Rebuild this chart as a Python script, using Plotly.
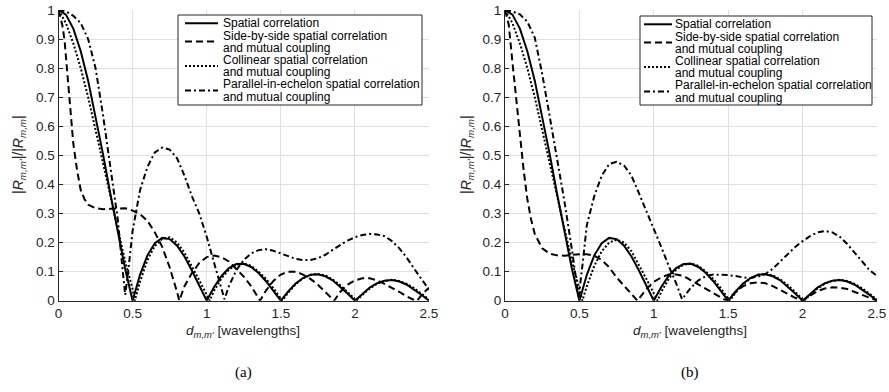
import plotly.graph_objects as go

# ---------------- data ----------------
# Spatial correlation (same curve in (a) and (b))
spatial_x = [0, 0.05, 0.1, 0.15, 0.2, 0.25, 0.3, 0.35, 0.4, 0.45, 0.5, 0.55, 0.6, 0.65, 0.7, 0.75, 0.8, 0.85, 0.9, 0.95,
             1.0, 1.05, 1.1, 1.15, 1.2, 1.25, 1.3, 1.35, 1.4, 1.45, 1.5, 1.55, 1.6, 1.65, 1.7, 1.75, 1.8, 1.85, 1.9, 1.95,
             2.0, 2.05, 2.1, 2.15, 2.2, 2.25, 2.3, 2.35, 2.4, 2.45, 2.5]
spatial_y = [1, 0.984, 0.936, 0.858, 0.757, 0.637, 0.505, 0.368, 0.234, 0.109, 0, 0.089, 0.156, 0.198, 0.216, 0.212,
             0.189, 0.152, 0.104, 0.052, 0, 0.047, 0.085, 0.112, 0.126, 0.127, 0.116, 0.095, 0.067, 0.034, 0, 0.032,
             0.059, 0.078, 0.089, 0.091, 0.084, 0.070, 0.049, 0.025, 0, 0.024, 0.045, 0.060, 0.069, 0.071, 0.066,
             0.055, 0.039, 0.020, 0]

# (a) Side-by-side
sbs_a_x = [0, 0.025, 0.04, 0.05, 0.075, 0.1, 0.125, 0.15, 0.175, 0.2, 0.25, 0.3, 0.35, 0.4, 0.45, 0.5, 0.55, 0.6, 0.65,
           0.7, 0.75, 0.8, 0.815, 0.85, 0.9, 0.95, 1.0, 1.05, 1.1, 1.15, 1.2, 1.25, 1.3, 1.35, 1.36, 1.4, 1.45, 1.5,
           1.55, 1.6, 1.65, 1.7, 1.75, 1.8, 1.85, 1.86, 1.9, 1.95, 2.0, 2.05, 2.1, 2.15, 2.2, 2.25, 2.3, 2.35, 2.4,
           2.42, 2.45, 2.5]
sbs_a_y = [1, 0.95, 0.9, 0.84, 0.68, 0.54, 0.45, 0.38, 0.35, 0.33, 0.318, 0.315, 0.316, 0.318, 0.318, 0.31, 0.298,
           0.275, 0.235, 0.185, 0.115, 0.03, 0, 0.05, 0.095, 0.13, 0.15, 0.155, 0.15, 0.135, 0.11, 0.083, 0.05, 0.01,
           0, 0.035, 0.068, 0.09, 0.1, 0.1, 0.09, 0.075, 0.055, 0.03, 0.005, 0, 0.03, 0.055, 0.07, 0.077, 0.077,
           0.07, 0.058, 0.045, 0.03, 0.015, 0.002, 0, 0.02, 0.045]

# (a) Collinear
col_a_x = [0, 0.05, 0.1, 0.15, 0.2, 0.25, 0.3, 0.35, 0.4, 0.45, 0.5, 0.515, 0.55, 0.6, 0.65, 0.7, 0.75, 0.8, 0.85, 0.9,
           0.95, 1.0, 1.02, 1.05, 1.1, 1.15, 1.2, 1.25, 1.3, 1.35, 1.4, 1.45, 1.5, 1.51, 1.55, 1.6, 1.65, 1.7, 1.75,
           1.8, 1.85, 1.9, 1.95, 2.0, 2.01, 2.05, 2.1, 2.15, 2.2, 2.25, 2.3, 2.35, 2.4, 2.45, 2.5]
col_a_y = [1, 0.955, 0.885, 0.80, 0.70, 0.585, 0.47, 0.355, 0.24, 0.135, 0.04, 0, 0.065, 0.14, 0.188, 0.213, 0.218,
           0.2, 0.165, 0.12, 0.07, 0.02, 0, 0.035, 0.077, 0.107, 0.124, 0.128, 0.12, 0.1, 0.075, 0.043, 0.01, 0,
           0.028, 0.056, 0.077, 0.089, 0.092, 0.087, 0.073, 0.054, 0.03, 0.006, 0, 0.02, 0.042, 0.058, 0.068, 0.072,
           0.068, 0.058, 0.043, 0.024, 0.004]

# (a) Parallel-in-echelon
par_a_x = [0, 0.05, 0.1, 0.15, 0.2, 0.25, 0.3, 0.35, 0.4, 0.43, 0.45, 0.47, 0.5, 0.55, 0.6, 0.65, 0.7, 0.75, 0.8,
           0.85, 0.9, 0.95, 1.0, 1.05, 1.1, 1.12, 1.15, 1.2, 1.25, 1.3, 1.35, 1.4, 1.45, 1.5, 1.55, 1.6, 1.65, 1.7,
           1.75, 1.8, 1.85, 1.9, 1.95, 2.0, 2.05, 2.1, 2.15, 2.2, 2.25, 2.3, 2.35, 2.4, 2.45, 2.5]
par_a_y = [1, 0.995, 0.98, 0.955, 0.9, 0.8, 0.64, 0.46, 0.28, 0.12, 0.02, 0.1, 0.24, 0.38, 0.46, 0.51, 0.527, 0.52,
           0.49, 0.43, 0.36, 0.3, 0.22, 0.13, 0.04, 0.005, 0.05, 0.105, 0.14, 0.163, 0.174, 0.177, 0.172, 0.163,
           0.152, 0.144, 0.14, 0.14, 0.146, 0.158, 0.175, 0.192, 0.207, 0.218, 0.226, 0.23, 0.228, 0.222, 0.205,
           0.18, 0.148, 0.11, 0.072, 0.038]

# (b) Side-by-side
sbs_b_x = [0, 0.025, 0.05, 0.075, 0.1, 0.125, 0.15, 0.175, 0.2, 0.25, 0.3, 0.35, 0.4, 0.45, 0.5, 0.55, 0.6, 0.65, 0.7,
           0.75, 0.8, 0.85, 0.89, 0.95, 1.0, 1.05, 1.1, 1.15, 1.2, 1.25, 1.3, 1.35, 1.4, 1.45, 1.49, 1.55, 1.6, 1.65,
           1.7, 1.75, 1.8, 1.85, 1.9, 1.95, 2.0, 2.05, 2.1, 2.15, 2.2, 2.25, 2.3, 2.35, 2.4, 2.45, 2.5]
sbs_b_y = [1, 0.95, 0.82, 0.69, 0.56, 0.45, 0.35, 0.28, 0.23, 0.18, 0.162, 0.156, 0.155, 0.158, 0.16, 0.16, 0.155,
           0.14, 0.115, 0.08, 0.05, 0.022, 0, 0.04, 0.065, 0.08, 0.09, 0.09, 0.085, 0.07, 0.055, 0.04, 0.025, 0.01, 0,
           0.03, 0.05, 0.06, 0.063, 0.06, 0.05, 0.037, 0.024, 0.01, 0, 0.018, 0.033, 0.042, 0.046, 0.045, 0.04,
           0.03, 0.02, 0.01, 0]

# (b) Collinear
col_b_x = [0, 0.05, 0.1, 0.15, 0.2, 0.25, 0.3, 0.35, 0.4, 0.45, 0.5, 0.52, 0.55, 0.6, 0.65, 0.7, 0.75, 0.8, 0.85, 0.9,
           0.95, 1.0, 1.025, 1.05, 1.1, 1.15, 1.2, 1.25, 1.3, 1.35, 1.4, 1.45, 1.5, 1.51, 1.55, 1.6, 1.65, 1.7, 1.75,
           1.8, 1.85, 1.9, 1.95, 2.0, 2.01, 2.05, 2.1, 2.15, 2.2, 2.25, 2.3, 2.35, 2.4, 2.45, 2.5]
col_b_y = [1, 0.955, 0.885, 0.80, 0.70, 0.585, 0.47, 0.355, 0.24, 0.135, 0.04, 0, 0.05, 0.12, 0.17, 0.2, 0.21, 0.2,
           0.17, 0.125, 0.075, 0.025, 0, 0.03, 0.075, 0.107, 0.124, 0.128, 0.12, 0.1, 0.075, 0.043, 0.01, 0, 0.028,
           0.056, 0.077, 0.089, 0.092, 0.087, 0.073, 0.054, 0.03, 0.006, 0, 0.02, 0.042, 0.058, 0.068, 0.072,
           0.068, 0.058, 0.043, 0.024, 0.004]

# (b) Parallel-in-echelon
par_b_x = [0, 0.05, 0.1, 0.15, 0.2, 0.25, 0.3, 0.35, 0.4, 0.45, 0.48, 0.495, 0.52, 0.55, 0.6, 0.65, 0.7, 0.75, 0.8,
           0.85, 0.9, 0.95, 1.0, 1.05, 1.1, 1.15, 1.19, 1.25, 1.3, 1.35, 1.4, 1.45, 1.5, 1.55, 1.6, 1.65, 1.7, 1.75,
           1.8, 1.85, 1.9, 1.95, 2.0, 2.05, 2.1, 2.15, 2.2, 2.25, 2.3, 2.35, 2.4, 2.45, 2.5]
par_b_y = [1, 0.995, 0.985, 0.96, 0.905, 0.78, 0.635, 0.49, 0.34, 0.175, 0.07, 0.01, 0.12, 0.26, 0.36, 0.43, 0.47,
           0.478, 0.465, 0.43, 0.37, 0.31, 0.25, 0.185, 0.12, 0.06, 0.005, 0.045, 0.07, 0.085, 0.09, 0.09, 0.088,
           0.085, 0.08, 0.078, 0.083, 0.092, 0.11, 0.135, 0.16, 0.185, 0.205, 0.222, 0.235, 0.24, 0.235, 0.22,
           0.195, 0.165, 0.133, 0.105, 0.085]

series_names = [["Spatial correlation"],
                ["Side-by-side spatial correlation", "and mutual coupling"],
                ["Collinear spatial correlation", "and mutual coupling"],
                ["Parallel-in-echelon spatial correlation", "and mutual coupling"]]
x_ticks = [0, 0.5, 1, 1.5, 2, 2.5]
y_ticks = [0, 0.1, 0.2, 0.3, 0.4, 0.5, 0.6, 0.7, 0.8, 0.9, 1]
panel_labels = ["(a)", "(b)"]

# ---------------- figure ----------------
W, H = 889, 392
FONT = "Liberation Sans, Arial, sans-serif"
DARK = "#262626"
GRID = "#e0e0e0"

styles = [dict(dash="solid", width=2),
          dict(dash="7px,4px", width=2),
          dict(dash="2px,2px", width=2),
          dict(dash="6px,3px,2px,3px", width=2)]

panels = [
    ("x", "y", [(spatial_x, spatial_y), (sbs_a_x, sbs_a_y), (col_a_x, col_a_y), (par_a_x, par_a_y)]),
    ("x2", "y2", [(spatial_x, spatial_y), (sbs_b_x, sbs_b_y), (col_b_x, col_b_y), (par_b_x, par_b_y)]),
]

fig = go.Figure()
for xa, ya, data in panels:
    for (xs, ys), name, st in zip(data, series_names, styles):
        fig.add_trace(go.Scatter(x=xs, y=ys, mode="lines", name=" ".join(name), xaxis=xa, yaxis=ya,
                                 showlegend=False,
                                 line=dict(color="black", width=st["width"], dash=st["dash"])))


def px_x(p):
    return p / W


def px_y(p):
    return 1 - p / H


xdoms = [[px_x(58.5), px_x(429)], [px_x(505), px_x(877)]]
ydom = [px_y(300.7), px_y(10)]

axis_common = dict(showgrid=True, gridcolor=GRID, gridwidth=1, zeroline=False, showline=True, linecolor=DARK,
                   linewidth=1, ticks="inside", ticklen=4, tickcolor=DARK, automargin=False,
                   tickfont=dict(family=FONT, size=13.5, color=DARK), mirror=False)

layout = dict(width=W, height=H, autosize=False, margin=dict(l=0, r=0, t=0, b=0, pad=0),
              paper_bgcolor="white", plot_bgcolor="white", showlegend=False, template="none")
for i, suffix in enumerate(["", "2"]):
    layout["xaxis" + suffix] = dict(domain=xdoms[i], range=[0, 2.5], tickvals=x_ticks,
                                    anchor="y" + suffix, **axis_common)
    layout["yaxis" + suffix] = dict(domain=ydom, range=[0, 1], tickvals=y_ticks,
                                    anchor="x" + suffix, **axis_common)
fig.update_layout(**layout)

# ---- legend boxes (drawn like the MATLAB legends) ----
legend_boxes = [dict(x0=178, x1=422, y0=15, y1=105, s0=185, s1=218, tx=221),
                dict(x0=640, x1=872, y0=16, y1=105, s0=644, s1=672, tx=673)]
line_step = 12.2
for lb in legend_boxes:
    fig.add_shape(type="rect", xref="paper", yref="paper", x0=px_x(lb["x0"]), x1=px_x(lb["x1"]),
                  y0=px_y(lb["y1"]), y1=px_y(lb["y0"]), line=dict(color=DARK, width=1), fillcolor="white",
                  layer="above")
    row = 0
    for name, st in zip(series_names, styles):
        first = lb["y0"] + 8.3 + row * line_step
        ys = [first + k * line_step for k in range(len(name))]
        sy = sum(ys) / len(ys)
        fig.add_shape(type="line", xref="paper", yref="paper", x0=px_x(lb["s0"]), x1=px_x(lb["s1"]),
                      y0=px_y(sy), y1=px_y(sy), layer="above",
                      line=dict(color="black", width=st["width"], dash=st["dash"]))
        for txt, yy in zip(name, ys):
            fig.add_annotation(text=txt, x=px_x(lb["tx"]), y=px_y(yy), xref="paper", yref="paper",
                               showarrow=False, xanchor="left", yanchor="middle",
                               font=dict(family=FONT, size=12, color="black"))
        row += len(name)

ytitle = "|<i>R</i><sub><i>m,m'</i></sub>|/|<i>R</i><sub><i>m,m</i></sub>|"
xtitle = "<i>d</i><sub><i>m,m'</i></sub> [wavelengths]"
centers = [243, 690]
ytitle_x = [19, 467]
for i in range(2):
    fig.add_annotation(text=ytitle, textangle=-90, x=px_x(ytitle_x[i]), y=px_y(155), xref="paper", yref="paper",
                       showarrow=False, font=dict(family=FONT, size=14, color=DARK), xanchor="center",
                       yanchor="middle")
    fig.add_annotation(text=xtitle, x=px_x(centers[i]), y=px_y(331), xref="paper", yref="paper",
                       showarrow=False, font=dict(family=FONT, size=13.5, color=DARK), xanchor="center",
                       yanchor="middle")
    fig.add_annotation(text=panel_labels[i], x=px_x(centers[i]), y=px_y(372), xref="paper", yref="paper",
                       showarrow=False, font=dict(family="Liberation Serif, Times New Roman, serif", size=15,
                                                  color="black"), xanchor="center", yanchor="middle")

# remove the browser's default 8px page margin so the figure fills the window exactly
fig.write_html("out.html", config={"displayModeBar": False},
               post_script="document.body.style.margin='0';document.body.style.overflow='hidden';")
